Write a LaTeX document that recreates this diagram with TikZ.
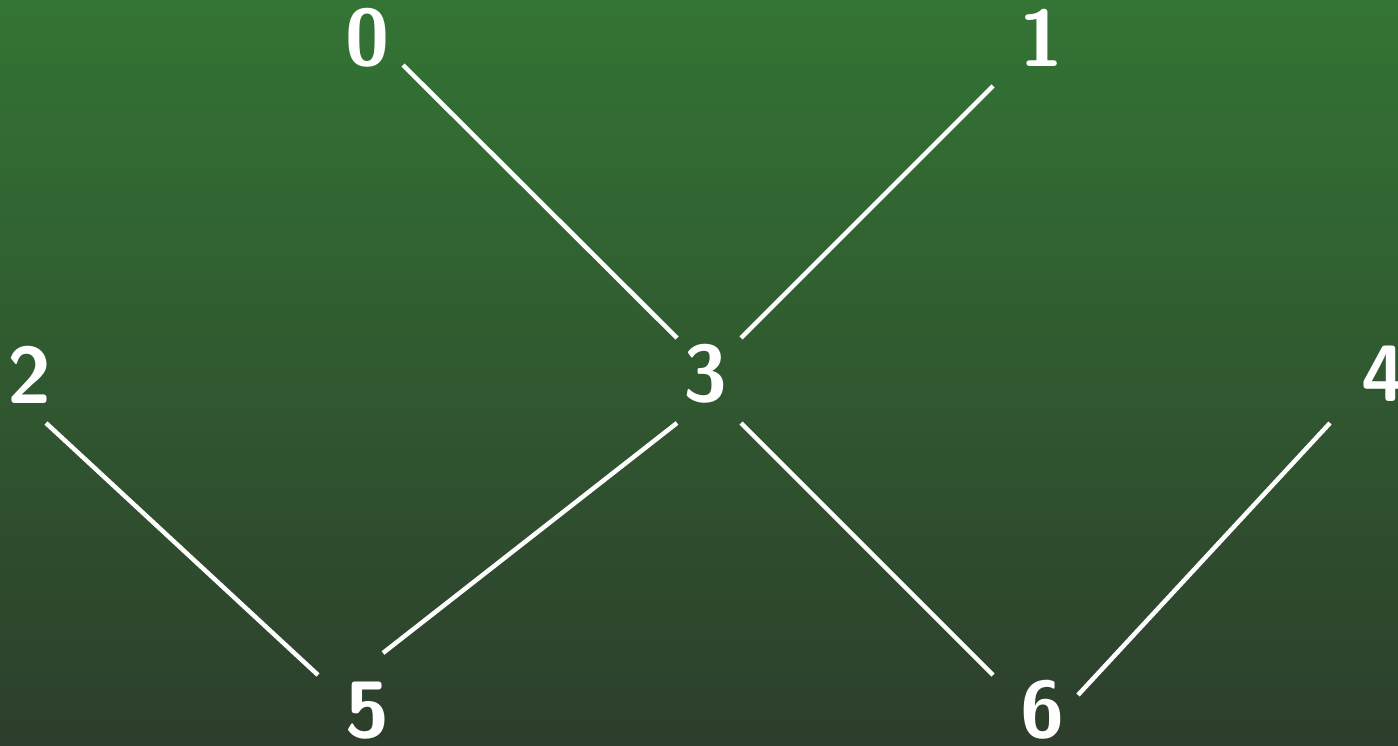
\documentclass[tikz,border=0pt]{standalone}
\usetikzlibrary{calc}
\definecolor{bgtop}{RGB}{51,116,52}
\definecolor{bgbot}{RGB}{45,62,44}
\tikzset{
  lbl/.style={text=white,inner sep=0pt,font=\sffamily\bfseries\fontsize{80}{82}\selectfont},
  edge/.style={draw=white,line width=4.5pt}
}
\begin{document}
\begin{tikzpicture}[x=1pt,y=1pt]
\useasboundingbox (0,0) rectangle (1398,-745);
\shade[top color=bgtop,bottom color=bgbot] (0,0) rectangle (1398,-745);
\node[lbl] (n0) at (367,-38) {0};
\node[lbl] (n1) at (1041,-38) {1};
\node[lbl] (n2) at (30,-375) {2};
\node[lbl] (n3) at (705,-374) {3};
\node[lbl] (n4) at (1383,-374) {4};
\node[lbl] (n5) at (367,-711) {5};
\node[lbl] (n6) at (1042,-710) {6};
\draw[edge] ($(n0)+(36,-27)$) -- ($(n3)+(-28,36)$);
\draw[edge] ($(n1)+(-48,-48)$) -- ($(n3)+(36,36)$);
\draw[edge] ($(n2)+(16,-48)$) -- ($(n5)+(-49,36)$);
\draw[edge] ($(n3)+(-28,-49)$) -- ($(n5)+(16,58)$);
\draw[edge] ($(n3)+(36,-49)$) -- ($(n6)+(-49,35)$);
\draw[edge] ($(n4)+(-53,-49)$) -- ($(n6)+(36,15)$);
\end{tikzpicture}
\end{document}
